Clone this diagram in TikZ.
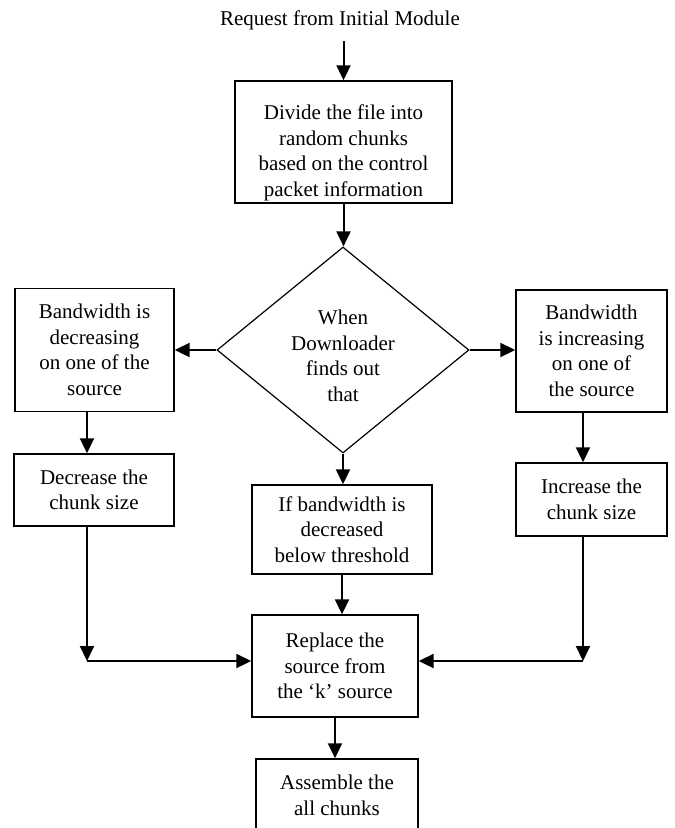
\documentclass[tikz,border=0pt]{standalone}
\usepackage{fontspec}
\setmainfont{Liberation Serif}
\usetikzlibrary{arrows.meta,shapes.geometric}

\tikzset{
    block/.style={draw, line width=1.4pt, align=center, inner sep=0pt},
    arr/.style={line width=2pt, -{Triangle[length=15pt,width=14pt]}},
}

\begin{document}
\begin{tikzpicture}[x=1pt, y=-1pt, font=\fontsize{21}{25.5}\selectfont]
            \useasboundingbox (0,0) rectangle (675,828);
            \begin{scope}
                \clip (0,0) rectangle (675,828);
                \fill[white] (0,0) rectangle (675,828);
                \node (start) at (340,20) {Request from Initial Module};
                \node[block, minimum width=217pt, minimum height=122pt] (divide) at (343.5,142) {\rule{0pt}{36pt}Divide the file into\\random chunks\\based on the control\\packet information};
                \node[block, diamond, shape aspect=1.2, line width=1.2pt, minimum width=252pt, minimum height=206pt] (choice) at (343,350) {\rule{0pt}{26pt}When\\Downloader\\finds out\\that};
                \node[block, minimum width=159pt, minimum height=123pt] (decbw) at (94.5,350) {Bandwidth is\\decreasing\\on one of the\\source};
                \node[block, minimum width=151pt, minimum height=122pt] (incbw) at (591.5,351) {Bandwidth\\is increasing\\on one of\\the source};
                \node[block, minimum width=160pt, minimum height=72pt] (decsize) at (94,490) {Decrease the\\chunk size};
                \node[block, minimum width=151pt, minimum height=73pt] (incsize) at (591.5,499.5) {Increase the\\chunk size};
                \node[block, minimum width=180pt, minimum height=89pt] (thresh) at (342,529.5) {If bandwidth is\\decreased\\below threshold};
                \node[block, minimum width=166pt, minimum height=102pt] (replace) at (335,666) {Replace the\\source from\\the `k' source};
                \node[block, minimum width=162pt, minimum height=73pt] (assemble) at (337,795.5) {Assemble the\\all chunks};
                \coordinate (ljoin) at (87,661);
                \coordinate (rjoin) at (583,661);
                \draw[arr] (start.south -| divide.north) ++(0,8) -- (divide.north);
                \foreach \a/\b in {divide/choice, choice/thresh, thresh/replace, replace/assemble}
                    \draw[arr] (\a.south) -- (\a.south |- \b.north);
                \draw[arr] (choice.west) -- (choice.west -| decbw.east);
                \draw[arr] (choice.east) -- (choice.east -| incbw.west);
                \draw[arr] (decbw.south -| ljoin) -- (decsize.north -| ljoin);
                \draw[arr] (incbw.south -| rjoin) -- (incsize.north -| rjoin);
                \draw[arr] (decsize.south -| ljoin) -- (ljoin);
                \draw[arr] (incsize.south -| rjoin) -- (rjoin);
                \draw[arr] (ljoin) -- (replace.west |- ljoin);
                \draw[arr] (rjoin) -- (replace.east |- rjoin);
            \end{scope}
        \end{tikzpicture}
\end{document}
